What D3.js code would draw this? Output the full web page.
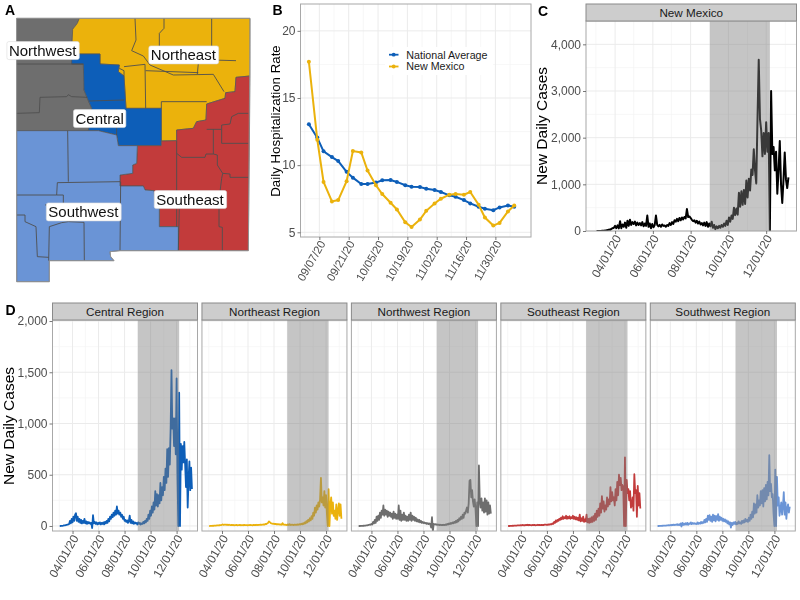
<!DOCTYPE html>
<html>
<head>
<meta charset="utf-8">
<script src="https://cdn.jsdelivr.net/npm/d3@7"></script>
<style>
  html, body { margin: 0; padding: 0; background: #fff; }
  svg { display: block; font-family: "Liberation Sans", Arial, sans-serif; filter: blur(0.3px); }
  .axis path { display: none; }
  .axis line { stroke: #555; stroke-width: 0.8; }
  .axis text { fill: #4d4d4d; font-size: 12px; }
  .grid-major { stroke: #ebebeb; stroke-width: 1; }
  .grid-minor { stroke: #f4f4f4; stroke-width: 0.7; }
</style>
</head>
<body>
<div id="chart"></div>
<script>
// ---- map, in map units (county outlines)
var northwestPoly = [[50,55],[238,55],[232,70],[218,88],[215,162],[215,192],[250,192],[252,270],[262,295],[275,325],[265,392],[50,392]];
var northeastPoly = [[238,55],[750,55],[750,228],[708,232],[705,275],[677,278],[675,295],[620,312],[618,360],[590,365],[580,385],[530,390],[530,422],[484,423],[484,325],[378,325],[372,228],[355,215],[358,195],[300,192],[300,162],[215,162],[218,88],[232,70]];
var centralPoly = [[215,162],[300,162],[300,192],[358,195],[355,215],[372,228],[378,325],[484,325],[484,437],[355,437],[350,405],[295,392],[265,392],[275,325],[262,295],[252,270],[250,192],[215,192]];
var southeastPoly = [[750,228],[745,752],[535,752],[535,680],[478,680],[478,620],[465,612],[462,572],[435,570],[430,558],[360,558],[360,525],[398,520],[398,495],[410,490],[412,437],[484,437],[484,423],[530,422],[530,390],[580,385],[590,365],[618,360],[620,312],[675,295],[677,278],[705,275],[708,232]];
var southwestPoly = [[50,392],[295,392],[350,405],[355,437],[412,437],[410,490],[398,495],[398,520],[360,525],[360,558],[430,558],[435,570],[462,572],[465,612],[478,620],[478,680],[535,680],[535,752],[360,752],[330,755],[332,770],[342,782],[148,782],[148,845],[50,845]];
var regionPolys = [northwestPoly, northeastPoly, centralPoly, southeastPoly, southwestPoly];

var countyLines = [
  [[50,192],[250,192]],
  [[50,340],[118,338],[120,292],[200,290],[205,284],[215,290],[262,292]],
  [[405,55],[408,120],[395,152],[430,168],[450,195],[520,225],[640,223],[672,275]],
  [[492,55],[492,85],[478,100],[478,145]],
  [[635,55],[635,180],[708,182]],
  [[372,200],[435,193],[437,325]],
  [[358,205],[372,212],[372,228]],
  [[437,212],[595,218]],
  [[595,190],[592,222]],
  [[484,305],[620,305]],
  [[484,305],[484,325]],
  [[265,303],[372,300]],
  [[350,380],[350,405]],
  [[620,388],[665,388],[665,375],[690,372],[695,350],[715,340],[745,340]],
  [[665,388],[665,430],[745,430]],
  [[640,388],[640,462],[652,465],[652,495],[668,520],[690,522],[690,532],[745,532]],
  [[530,422],[530,680]],
  [[530,460],[545,472],[615,472],[618,462],[640,462]],
  [[668,520],[665,535],[657,600],[657,680],[667,682],[667,752]],
  [[538,620],[535,752]],
  [[203,392],[205,545]],
  [[172,548],[360,545]],
  [[172,548],[170,585],[50,585]],
  [[362,545],[360,752]],
  [[170,585],[190,585],[190,612],[135,615]],
  [[50,645],[75,645],[75,665],[108,680],[112,770],[146,772]],
  [[148,680],[185,668],[205,665],[252,667],[253,782]],
  [[148,680],[146,782]]
];

var regionLabels = ["Northwest", "Northeast", "Central", "Southeast", "Southwest"];
var regionLabelAt = [[128,152],[550,165],[299,356],[570,599],[250,636]];
var stateOutline = [[50,55],[750,55],[745,752],[360,752],[330,755],[332,770],[342,782],[148,782],[148,845],[50,845]];

// ---- panel B
var hospDates = ["2020-09-02","2020-09-06","2020-09-09","2020-09-13","2020-09-16","2020-09-20","2020-09-23","2020-09-27","2020-09-30","2020-10-04","2020-10-07","2020-10-11","2020-10-14","2020-10-18","2020-10-21","2020-10-25","2020-10-28","2020-11-01","2020-11-04","2020-11-08","2020-11-11","2020-11-15","2020-11-18","2020-11-22","2020-11-25","2020-11-29","2020-12-02","2020-12-06","2020-12-09"];
var nationalRate = [13.04,12.05,11.03,10.6,10.3,9.5,9.07,8.6,8.6,8.7,8.87,8.9,8.75,8.5,8.4,8.37,8.25,8.15,8.0,7.75,7.65,7.4,7.15,6.9,6.75,6.65,6.85,7.0,6.9];
var nmRate = [17.7,11.9,8.75,7.3,7.4,8.8,11.05,10.95,9.6,8.5,7.85,7.2,6.7,5.75,5.4,5.95,6.6,7.15,7.5,7.8,7.85,7.8,8.0,7.05,6.1,5.5,5.7,6.55,7.0];
var hospTickDates = ["2020-09-07","2020-09-21","2020-10-05","2020-10-19","2020-11-02","2020-11-16","2020-11-30"];
var hospYTicks = [5,10,15,20];
var hospSeriesNames = ["National Average","New Mexico"];

// ---- panels C and D: new daily cases, one value every second day from casesStart
var casesStart = "2020-03-02";
var nmCases = [
  0,0,0,2,3,5,8,12,15,20,
  30,25,45,60,70,110,60,120,55,210,
  60,140,90,180,70,220,110,240,130,190,
  150,200,120,180,130,170,120,190,100,160,
  110,330,90,160,60,150,80,130,330,130,
  100,130,90,140,110,120,90,130,110,170,
  130,190,150,230,200,260,210,280,230,290,
  250,300,270,470,300,310,280,240,210,230,
  180,220,160,200,140,170,120,180,110,190,
  90,160,100,200,70,130,40,100,60,110,
  70,130,90,160,110,220,130,290,200,330,
  260,500,340,480,350,820,520,850,560,880,
  580,1080,720,1120,870,1320,1200,1750,1300,1020,
  2400,3670,2400,2150,1600,2100,1650,2330,1700,2100,
  0,3000,1650,1800,1300,1700,800,1300,1930,1000,
  600,1100,1680,1100,920,1150];
var centralCases = [
  0,0,1,2,3,5,6,8,10,12,
  15,20,50,25,70,35,90,50,110,125,
  50,90,40,70,30,60,25,50,30,70,
  25,45,20,40,25,35,20,30,-20,105,
  25,40,20,35,15,30,20,35,15,30,
  20,35,15,40,25,50,30,70,45,90,
  70,110,85,130,100,150,110,190,120,150,
  110,130,90,110,70,90,50,60,40,55,
  30,50,100,30,60,25,45,20,35,25,
  30,15,35,20,30,15,25,20,40,25,
  50,35,70,50,110,70,150,100,190,130,
  230,160,340,200,310,190,300,220,420,250,
  380,300,480,350,560,420,750,480,760,600,
  950,1520,950,1050,780,1050,700,1440,500,0,
  1300,0,800,550,780,620,820,600,380,650,
  180,450,630,350,570,360];
var northeastCases = [
  0,0,1,1,2,2,3,3,4,5,5,6,7,8,9,
  12,15,10,14,12,10,13,9,12,10,9,11,8,10,7,
  9,8,10,7,9,8,11,7,9,8,7,10,8,9,8,
  7,9,8,10,8,9,7,10,8,11,9,12,9,11,10,
  12,10,14,12,16,13,20,18,25,30,45,38,30,25,22,
  20,22,18,20,16,18,15,17,13,15,12,28,14,12,10,
  12,9,15,10,18,9,14,10,12,9,14,11,13,10,16,
  12,18,14,22,16,26,20,35,25,48,35,60,45,75,55,
  95,70,130,100,180,130,200,160,230,190,260,470,230,280,200,
  340,180,300,120,0,360,0,200,280,120,230,100,150,70,210,
  60,150,220,100,210,70];
var northwestCases = [
  0,0,0,1,1,2,2,3,4,5,6,8,10,14,12,
  20,15,40,25,60,30,90,50,100,60,130,80,150,110,200,
  100,160,110,150,90,140,100,130,90,120,70,140,80,120,70,
  110,70,200,60,150,50,110,60,130,60,100,50,90,50,110,
  60,130,50,100,60,90,50,80,45,65,40,60,35,50,30,
  40,28,35,25,30,20,28,18,25,20,-15,85,-50,20,15,
  18,12,15,10,14,8,12,8,10,8,12,9,15,11,20,
  14,25,18,30,22,35,25,40,30,50,35,60,45,75,60,
  90,70,110,80,130,120,150,180,130,220,440,450,280,350,240,
  190,260,170,0,230,0,590,250,180,270,150,230,130,270,140,
  250,110,230,120,200,120];
var southeastCases = [
  0,0,0,1,1,2,2,3,3,4,4,5,5,6,6,
  8,6,10,7,9,7,10,8,12,7,10,8,9,7,10,
  8,10,7,9,8,12,8,10,9,11,8,10,9,14,12,
  10,14,11,16,14,18,16,25,20,40,30,55,40,60,50,
  70,60,80,65,95,70,85,75,100,70,90,75,95,70,85,
  75,100,70,90,65,85,60,80,55,110,45,75,50,90,40,
  65,45,110,35,70,30,75,35,85,40,95,50,120,60,150,
  90,170,100,220,130,290,170,240,140,200,160,280,190,260,210,
  380,240,330,250,280,200,360,250,430,300,500,400,470,350,400,
  380,0,670,0,450,320,360,250,340,180,200,280,150,505,320,
  350,90,390,200,320,170];
var southwestCases = [
  0,0,0,1,1,2,2,3,3,4,4,5,6,7,6,
  10,6,12,8,14,9,12,10,18,8,15,10,25,-5,30,
  10,25,12,28,15,30,12,25,20,35,18,30,22,28,20,
  25,18,35,20,30,22,40,25,38,30,60,35,70,40,100,
  60,105,50,90,40,110,55,100,45,95,60,115,50,90,60,
  80,50,70,45,65,40,55,25,45,15,35,-15,30,10,35,
  20,40,15,30,20,45,25,35,20,50,30,55,35,70,45,
  60,40,80,50,110,70,140,85,220,120,210,130,300,180,250,
  200,340,220,350,190,370,240,400,260,430,300,690,340,410,280,
  310,120,0,550,0,480,200,280,100,160,230,110,190,330,110,
  230,70,170,210,130,190];

var regionNames = ["Central Region","Northeast Region","Northwest Region","Southeast Region","Southwest Region"];
var regionCases = [centralCases, northeastCases, northwestCases, southeastCases, southwestCases];
var caseTickDates = ["2020-04-01","2020-06-01","2020-08-01","2020-10-01","2020-12-01"];
var caseMinorDates = ["2020-03-01","2020-05-01","2020-07-01","2020-09-01","2020-11-01","2021-01-01"];
var shadeDates = ["2020-09-01","2020-12-07"];
var nmYTicks = [0,1000,2000,3000,4000];
var nmYMinor = [500,1500,2500,3500];
var regionYTicks = [0,500,1000,1500,2000];
var regionYMinor = [250,750,1250,1750];

var parseDay = d3.utcParse("%Y-%m-%d");
var fmtDay = d3.utcFormat("%m/%d/%y");
var fmtComma = d3.format(",");

var colors = {
  blue: "#0d5eb8",
  yellow: "#ebb20c",
  gray: "#6e6e6e",
  red: "#c23b3b",
  light: "#6a94d6"
};
var mapFills = [colors.gray, colors.yellow, colors.blue, colors.red, colors.light];
var regionColors = [colors.blue, colors.yellow, colors.gray, colors.red, colors.light];

var svg = d3.select("#chart").append("svg")
  .attr("width", 800)
  .attr("height", 600);
var defs = svg.append("defs");
var clipCount = 0;

function panelLetter(txt, x, y) {
  svg.append("text").attr("x", x).attr("y", y)
    .attr("font-size", 14).attr("font-weight", "bold").attr("fill", "#000")
    .text(txt);
}

function yTitle(txt, x, y, size) {
  svg.append("text")
    .attr("transform", "translate(" + x + "," + y + ") rotate(-90)")
    .attr("text-anchor", "middle")
    .attr("font-size", size)
    .attr("fill", "#000")
    .text(txt);
}

function slantLabels(sel, size, dy) {
  sel.selectAll("text")
    .attr("text-anchor", "end")
    .attr("font-size", size)
    .style("font-size", size + "px")
    .attr("dx", 0).attr("dy", 0)
    .attr("x", 0).attr("y", 0)
    .attr("transform", "translate(6," + dy + ") rotate(-60)");
}

function drawGrid(g, x, y, xMajor, xMinor, yMajor, yMinor, box) {
  g.selectAll(".vm").data(xMinor).enter().append("line").attr("class", "grid-minor")
    .attr("x1", d => x(d)).attr("x2", d => x(d)).attr("y1", box.top).attr("y2", box.bottom);
  g.selectAll(".hm").data(yMinor).enter().append("line").attr("class", "grid-minor")
    .attr("y1", d => y(d)).attr("y2", d => y(d)).attr("x1", box.left).attr("x2", box.right);
  g.selectAll(".vM").data(xMajor).enter().append("line").attr("class", "grid-major")
    .attr("x1", d => x(d)).attr("x2", d => x(d)).attr("y1", box.top).attr("y2", box.bottom);
  g.selectAll(".hM").data(yMajor).enter().append("line").attr("class", "grid-major")
    .attr("y1", d => y(d)).attr("y2", d => y(d)).attr("x1", box.left).attr("x2", box.right);
}

// ---- A: the map
function drawMap() {
  var mx = d3.scaleLinear().domain([0, 798]).range([0, 266]);
  var my = d3.scaleLinear().domain([0, 885]).range([0, 295]);
  var path = d3.line().x(d => mx(d[0])).y(d => my(d[1]));
  var g = svg.append("g");

  g.selectAll(".region").data(regionPolys).enter().append("path")
    .attr("d", d => path(d) + "Z")
    .attr("fill", (d, i) => mapFills[i])
    .attr("stroke", "#555")
    .attr("stroke-width", 0.7);

  g.selectAll(".county").data(countyLines).enter().append("path")
    .attr("d", path)
    .attr("fill", "none")
    .attr("stroke", "#4f4f4f")
    .attr("stroke-width", 0.9);

  g.append("path").attr("d", path(stateOutline) + "Z")
    .attr("fill", "none").attr("stroke", "#9a9a9a").attr("stroke-width", 0.8);

  regionLabels.forEach(function(name, i) {
    var lg = g.append("g").attr("transform", "translate(" + mx(regionLabelAt[i][0]) + "," + my(regionLabelAt[i][1]) + ")");
    var t = lg.append("text").attr("text-anchor", "middle").attr("dy", "0.36em")
      .attr("font-size", 15).attr("fill", "#111").text(name);
    var b = t.node().getBBox();
    lg.insert("rect", "text")
      .attr("x", b.x - 2).attr("y", b.y - 0.5)
      .attr("width", b.width + 4).attr("height", b.height + 1)
      .attr("rx", 2)
      .attr("fill", "#fff").attr("stroke", "#dcdcdc").attr("stroke-width", 0.6);
  });
  panelLetter("A", 5, 15);
}

// ---- B: hospitalization rate
function drawHosp() {
  var box = {left: 300.5, right: 531, top: 4, bottom: 237};
  var dates = hospDates.map(parseDay);
  var x = d3.scaleUtc()
    .domain([parseDay("2020-08-29"), parseDay("2020-12-17")])
    .range([box.left, box.right]);
  var y = d3.scaleLinear().domain([4.65, 22]).range([box.bottom, box.top]);
  var ticks = hospTickDates.map(parseDay);
  var g = svg.append("g");

  var minorX = ticks.map(d => d3.utcDay.offset(d, 7)).concat([d3.utcDay.offset(ticks[0], -7)]);
  drawGrid(g, x, y, ticks, minorX, hospYTicks, [7.5, 12.5, 17.5], box);

  var line = d3.line().x((d, i) => x(dates[i])).y(d => y(d));
  [[nationalRate, colors.blue], [nmRate, colors.yellow]].forEach(function(s) {
    g.append("path").attr("d", line(s[0]))
      .attr("fill", "none").attr("stroke", s[1]).attr("stroke-width", 2);
    g.selectAll(null).data(s[0]).enter().append("circle")
      .attr("cx", (d, i) => x(dates[i])).attr("cy", d => y(d)).attr("r", 2)
      .attr("fill", s[1]);
  });

  g.append("rect")
    .attr("x", box.left).attr("y", box.top)
    .attr("width", box.right - box.left).attr("height", box.bottom - box.top)
    .attr("fill", "none").attr("stroke", "#a8a8a8").attr("stroke-width", 1);

  // legend, white key box hides the grid behind it
  var lg = svg.append("g").attr("transform", "translate(385,47)");
  lg.append("rect").attr("width", 108).attr("height", 28).attr("fill", "#fff");
  hospSeriesNames.forEach(function(name, i) {
    var yy = 7.7 + i * 11.8;
    var c = i === 0 ? colors.blue : colors.yellow;
    lg.append("line").attr("x1", 4).attr("x2", 13.5).attr("y1", yy).attr("y2", yy)
      .attr("stroke", c).attr("stroke-width", 1.8);
    lg.append("circle").attr("cx", 8.7).attr("cy", yy).attr("r", 1.9).attr("fill", c);
    lg.append("text").attr("x", 21.3).attr("y", yy).attr("dy", "0.36em")
      .attr("font-size", 10.7).attr("fill", "#1a1a1a").text(name);
  });

  svg.append("g").attr("class", "axis")
    .attr("transform", "translate(" + box.left + ",0)")
    .call(d3.axisLeft(y).tickValues(hospYTicks).tickSize(3).tickPadding(2));
  svg.append("g").attr("class", "axis")
    .attr("transform", "translate(0," + box.bottom + ")")
    .call(d3.axisBottom(x).tickValues(ticks).tickFormat(fmtDay).tickSize(3))
    .call(slantLabels, 11.4, 6.5);

  yTitle("Daily Hospitalization Rate", 280, 121, 13.3);
  panelLetter("B", 272.5, 15);
}

// ---- C and D share this: strip on top, line with the shaded window over it
function drawCases(opts) {
  var box = opts.box;
  var x = d3.scaleUtc()
    .domain([parseDay("2020-02-14"), parseDay("2021-01-19")])
    .range([box.left, box.right]);
  var y = d3.scaleLinear().domain(opts.yDomain).range([box.bottom, box.top]);
  var ticks = caseTickDates.map(parseDay);
  var minors = caseMinorDates.map(parseDay);
  var g = svg.append("g");
  var start = parseDay(casesStart);

  drawGrid(g, x, y, ticks, minors, opts.yTicks, opts.yMinor, box);

  var clipId = "clip" + (clipCount++);
  defs.append("clipPath").attr("id", clipId).append("rect")
    .attr("x", box.left).attr("y", box.top)
    .attr("width", box.right - box.left).attr("height", box.bottom - box.top);

  var line = d3.line()
    .x((d, i) => x(d3.utcDay.offset(start, i * 2)))
    .y(d => y(d));

  g.append("path").attr("d", line(opts.values))
    .attr("clip-path", "url(#" + clipId + ")")
    .attr("fill", "none")
    .attr("stroke", opts.color)
    .attr("stroke-width", opts.lineWidth)
    .attr("stroke-linejoin", "round");

  // shade goes over the line, the line dulls inside it
  var sx0 = x(parseDay(shadeDates[0])), sx1 = x(parseDay(shadeDates[1]));
  g.append("rect")
    .attr("x", sx0).attr("y", box.top)
    .attr("width", sx1 - sx0).attr("height", box.bottom - box.top)
    .attr("fill", "#7f7f7f").attr("opacity", 0.45);

  g.append("rect")
    .attr("x", box.left).attr("y", box.top)
    .attr("width", box.right - box.left).attr("height", box.bottom - box.top)
    .attr("fill", "none").attr("stroke", "#a8a8a8").attr("stroke-width", 1);

  g.append("rect")
    .attr("x", box.left).attr("y", box.top - 17)
    .attr("width", box.right - box.left).attr("height", 17)
    .attr("fill", "#cdcdcd").attr("stroke", "#8a8a8a").attr("stroke-width", 1);
  g.append("text")
    .attr("x", (box.left + box.right) / 2).attr("y", box.top - 8.5)
    .attr("dy", "0.36em").attr("text-anchor", "middle")
    .attr("font-size", 11.7).attr("fill", "#1a1a1a")
    .text(opts.title);

  if (opts.showY) {
    svg.append("g").attr("class", "axis")
      .attr("transform", "translate(" + box.left + ",0)")
      .call(d3.axisLeft(y).tickValues(opts.yTicks).tickFormat(fmtComma).tickSize(3).tickPadding(2));
  }
  svg.append("g").attr("class", "axis")
    .attr("transform", "translate(0," + box.bottom + ")")
    .call(d3.axisBottom(x).tickValues(ticks).tickFormat(fmtDay).tickSize(3))
    .call(slantLabels, 12, 7);
}

drawMap();
drawHosp();

drawCases({
  box: {left: 586, right: 796.5, top: 21, bottom: 231},
  yDomain: [0, 4500],
  yTicks: nmYTicks,
  yMinor: nmYMinor,
  values: nmCases,
  color: "#000",
  lineWidth: 2,
  title: "New Mexico",
  showY: true
});
yTitle("New Daily Cases", 547, 126, 15.5);
panelLetter("C", 538, 15.5);

regionNames.forEach(function(name, i) {
  var left = 52.5 + i * 149.45;
  drawCases({
    box: {left: left, right: left + 145, top: 320, bottom: 531},
    yDomain: [-49, 2010],
    yTicks: regionYTicks,
    yMinor: regionYMinor,
    values: regionCases[i],
    color: regionColors[i],
    lineWidth: 1.8,
    title: name,
    showY: i === 0
  });
});
yTitle("New Daily Cases", 14, 426, 15.5);
panelLetter("D", 5.5, 315);
</script>
</body>
</html>
